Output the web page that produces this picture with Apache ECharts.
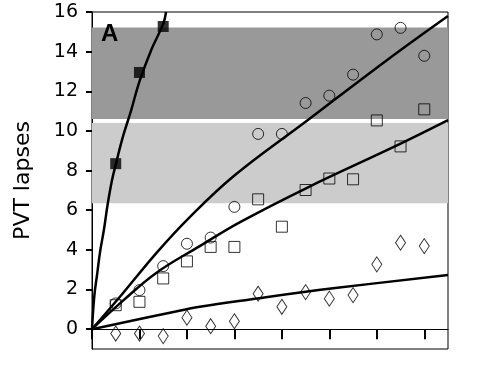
<!DOCTYPE html>
<html>
<head>
<meta charset="utf-8">
<script src="https://cdn.jsdelivr.net/npm/echarts@6/dist/echarts.min.js"></script>
<style>
html,body{margin:0;padding:0;background:#fff;}
#chart{width:481px;height:384px;}
</style>
</head>
<body>
<div id="chart"></div>
<script>
// Measurement x positions
var xPoints = [0.5, 1, 1.5, 2, 2.5, 3, 3.5, 4, 4.5, 5, 5.5, 6, 6.5, 7];
// Filled squares (first three points only)
var filledX = [0.5, 1, 1.5];
var filledY = [8.35, 12.95, 15.27];
// Open circles
var circleY = [1.30, 1.97, 3.18, 4.31, 4.62, 6.17, 9.85, 9.85, 11.41, 11.78, 12.84, 14.87, 15.20, 13.79];
// Open squares
var squareY = [1.21, 1.38, 2.56, 3.42, 4.15, 4.15, 6.55, 5.17, 7.02, 7.60, 7.56, 10.53, 9.22, 11.09];
// Open diamonds
var diamondY = [-0.22, -0.22, -0.35, 0.58, 0.15, 0.40, 1.79, 1.13, 1.87, 1.54, 1.72, 3.27, 4.36, 4.19];

// Fitted curves
var curveFilledX = [0, 0.05, 0.11, 0.17, 0.25, 0.33, 0.42, 0.5, 0.65, 0.82, 1.0, 1.25, 1.5, 1.56];
var curveFilledY = [0, 1.7, 2.8, 3.9, 5.0, 6.3, 7.5, 8.3, 9.7, 11.0, 12.5, 14.1, 15.4, 16.0];
var curveCircleX = [0, 0.66, 1.36, 2.06, 3.0, 4.52, 6.24, 7.5];
var curveCircleY = [0, 1.84, 3.85, 5.65, 7.75, 10.5, 13.62, 15.8];
var curveSquareX = [0, 0.66, 1.36, 2.27, 3.12, 4.52, 6.48, 7.5];
var curveSquareY = [0, 1.45, 2.85, 4.19, 5.4, 7.12, 9.33, 10.54];
var curveDiamondX = [0, 1.64, 2.27, 3.33, 5.08, 7.5];
var curveDiamondY = [0, 0.83, 1.13, 1.5, 2.06, 2.73];

// Shaded bands
var darkBand = [10.6, 15.22];
var lightBand = [6.35, 10.4];

// Axis ticks
var yTickValues = [0, 2, 4, 6, 8, 10, 12, 14, 16];
var xTickValues = [0, 1, 2, 3, 4, 5, 6, 7];

function zip(xs, ys) { return xs.map(function (x, i) { return [x, ys[i]]; }); }

var chart = echarts.init(document.getElementById('chart'), null, {renderer: 'canvas'});
var lineStyle = {color: '#000', width: 2.5};
var open = {color: 'rgba(0,0,0,0)', borderColor: '#000', borderWidth: 1};

chart.setOption({
  animation: false,
  backgroundColor: '#fff',
  grid: {left: 92, right: 33, top: 12, bottom: 35, show: true, borderColor: '#000', borderWidth: 1, backgroundColor: '#fff'},
  xAxis: {
    type: 'value', min: 0, max: 7.5, interval: 1,
    axisLine: {show: true, lineStyle: {color: '#000', width: 1}},
    axisTick: {show: true, length: 10, lineStyle: {color: '#000', width: 2}, customValues: xTickValues},
    axisLabel: {show: false},
    splitLine: {show: false}
  },
  yAxis: {
    type: 'value', min: -1, max: 16, interval: 1,
    name: 'PVT lapses', nameLocation: 'middle', nameGap: 58,
    nameTextStyle: {fontFamily: 'DejaVu Sans', fontSize: 22, color: '#000'},
    axisLine: {show: true, lineStyle: {color: '#000', width: 1}},
    axisTick: {show: true, length: 6, lineStyle: {color: '#000', width: 2}, customValues: yTickValues},
    axisLabel: {fontFamily: 'DejaVu Sans', fontSize: 19, color: '#000', margin: 14, customValues: yTickValues},
    splitLine: {show: false}
  },
  graphic: [{
    type: 'text', left: 101, top: 22, z: 100,
    style: {text: 'A', fontFamily: 'Liberation Sans', fontWeight: 'bold', fontSize: 24, fill: '#000'}
  }],
  series: [
    {
      type: 'line', data: [], silent: true,
      markArea: {silent: true, itemStyle: {opacity: 1},
        data: [
          [{yAxis: darkBand[0], itemStyle: {color: '#999999'}}, {yAxis: darkBand[1]}],
          [{yAxis: lightBand[0], itemStyle: {color: '#cccccc'}}, {yAxis: lightBand[1]}]
        ]}
    },
    {type: 'line', data: zip(curveFilledX, curveFilledY), smooth: 0.4, showSymbol: false, lineStyle: lineStyle, z: 3},
    {type: 'line', data: zip(curveCircleX, curveCircleY), smooth: 0.4, showSymbol: false, lineStyle: lineStyle, z: 3},
    {type: 'line', data: zip(curveSquareX, curveSquareY), smooth: 0.4, showSymbol: false, lineStyle: lineStyle, z: 3},
    {type: 'line', data: zip(curveDiamondX, curveDiamondY), smooth: 0.4, showSymbol: false, lineStyle: lineStyle, z: 3},
    {type: 'scatter', data: zip(filledX, filledY), symbol: 'rect', symbolSize: 11, itemStyle: {color: '#000'}, z: 4},
    {type: 'scatter', data: zip(xPoints, circleY), symbol: 'circle', symbolSize: 11, itemStyle: open, z: 4},
    {type: 'scatter', data: zip(xPoints, squareY), symbol: 'rect', symbolSize: 11, itemStyle: open, z: 4},
    {type: 'scatter', data: zip(xPoints, diamondY), symbol: 'diamond', symbolSize: [10, 15], itemStyle: open, z: 4}
  ]
});
</script>
</body>
</html>
